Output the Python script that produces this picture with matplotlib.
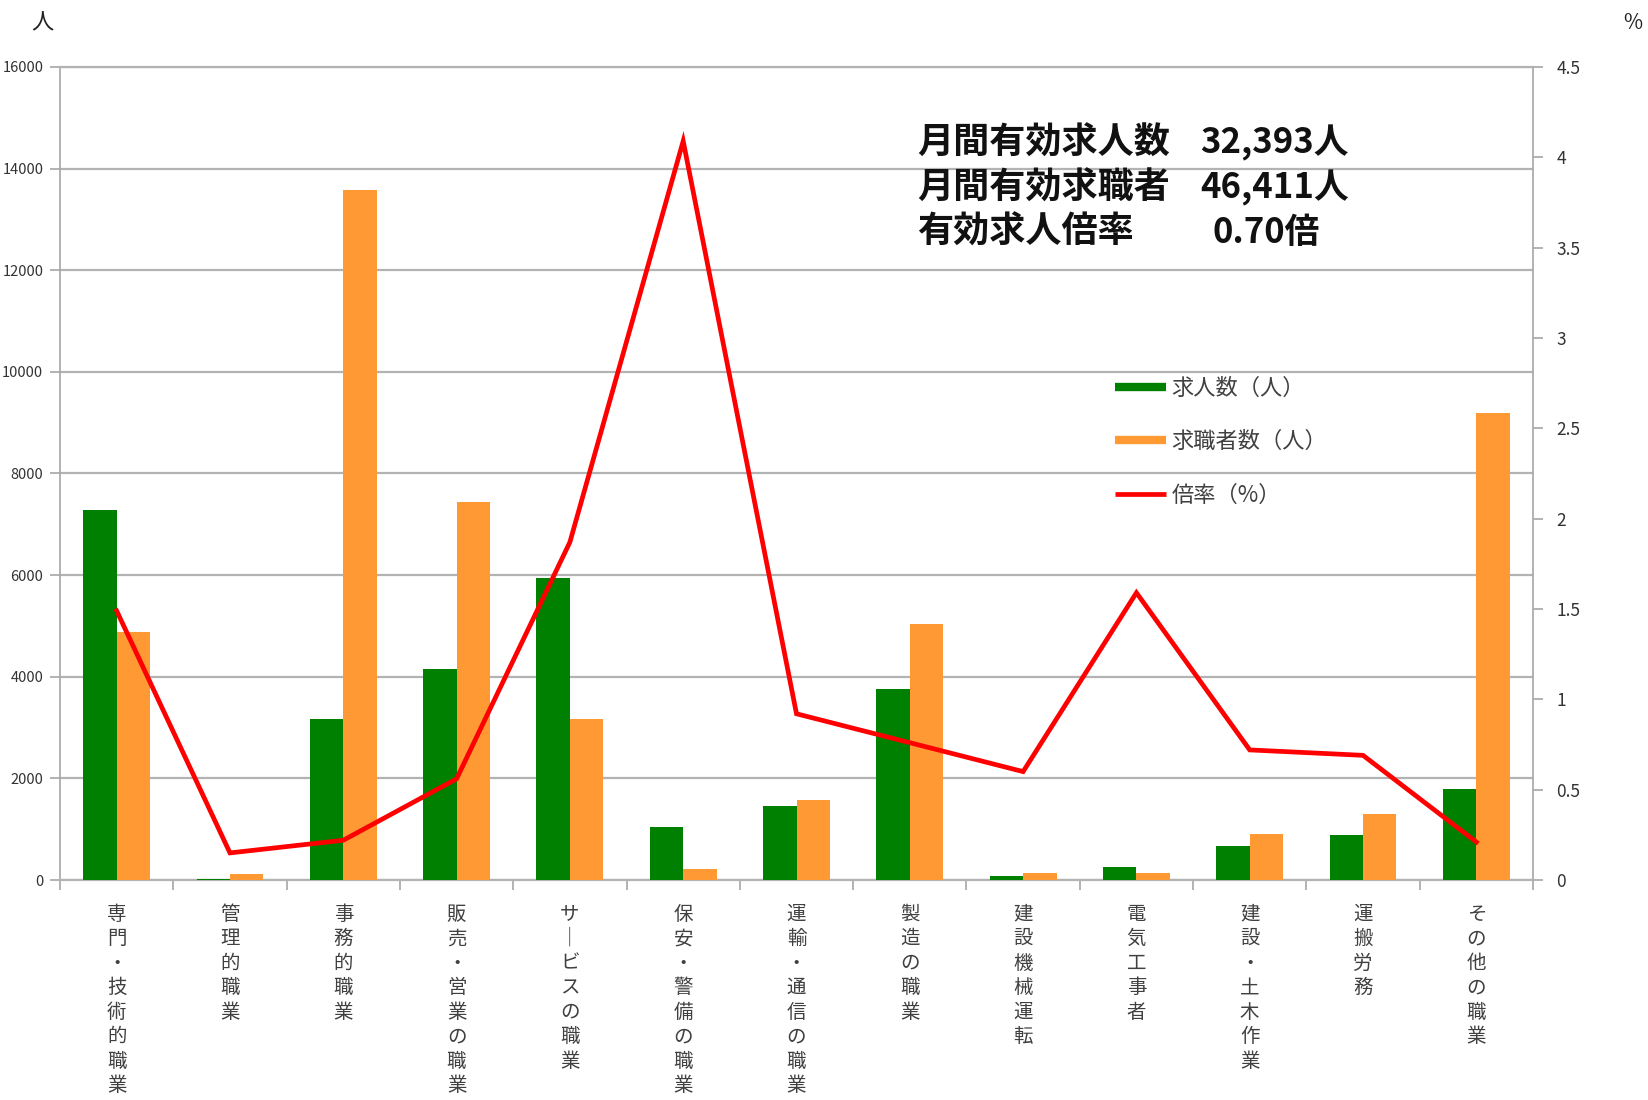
import matplotlib
matplotlib.use("Agg")
import matplotlib.pyplot as plt
from matplotlib.lines import Line2D
import numpy as np

plt.rcParams['font.family'] = ['Noto Sans CJK JP', 'DejaVu Sans']

categories = ["専門・技術的職業", "管理的職業", "事務的職業", "販売・営業の職業",
              "サービスの職業", "保安・警備の職業", "運輸・通信の職業", "製造の職業",
              "建設機械運転", "電気工事者", "建設・土木作業", "運搬労務", "その他の職業"]
job_openings = [7290, 20, 3160, 4150, 5950, 1050, 1460, 3750, 80, 250, 660, 890, 1800]
job_seekers = [4880, 120, 13580, 7430, 3160, 220, 1580, 5030, 140, 140, 910, 1300, 9190]
ratio = [1.49, 0.15, 0.22, 0.56, 1.87, 4.09, 0.92, 0.76, 0.60, 1.59, 0.72, 0.69, 0.21]

left_ticks = [0, 2000, 4000, 6000, 8000, 10000, 12000, 14000, 16000]
right_ticks = [0, 0.5, 1, 1.5, 2, 2.5, 3, 3.5, 4, 4.5]
right_labels = ["0", "0.5", "1", "1.5", "2", "2.5", "3", "3.5", "4", "4.5"]

series_names = ["求人数（人）", "求職者数（人）", "倍率（%）"]
summary = [("月間有効求人数", "32,393人"), ("月間有効求職者", "46,411人"), ("有効求人倍率", "0.70倍")]

GREEN = "#008000"
ORANGE = "#ff9933"
RED = "#ff0000"
GRID = "#b3b3b3"
TXT = "#404040"

W, H = 1649, 1100
fig = plt.figure(figsize=(W / 100, H / 100), dpi=100)
ax = fig.add_axes([60 / W, (H - 880) / H, (1533 - 60) / W, (880 - 67) / H])

n = len(categories)
x = np.arange(n)
bw = 0.295
ax.bar(x - bw / 2, job_openings, width=bw, color=GREEN, zorder=3)
ax.bar(x + bw / 2, job_seekers, width=bw, color=ORANGE, zorder=3)

ax.set_xlim(-0.5, n - 0.5)
ax.set_ylim(0, 16000)
ax.set_yticks(left_ticks)
ax.set_yticklabels([str(v) for v in left_ticks])
ax.yaxis.grid(True, color=GRID, lw=1.6, zorder=0)
ax.set_axisbelow(True)

for s in ["left", "right"]:
    ax.spines[s].set_color("#a6a6a6")
    ax.spines[s].set_linewidth(1.2)
for s in ["top", "bottom"]:
    ax.spines[s].set_color(GRID)
    ax.spines[s].set_linewidth(1.6)

vert = ["\n".join(c.replace("ー", "｜")) for c in categories]
ax.set_xticks(x)
ax.set_xticklabels(vert, fontsize=14, color=TXT, va="top", linespacing=1.22)
ax.tick_params(axis="x", which="major", length=0, pad=17)
ax.set_xticks(np.arange(n + 1) - 0.5, minor=True)
ax.tick_params(axis="x", which="minor", length=7, width=1.2, color="#a6a6a6")
ax.tick_params(axis="y", length=7, width=1.2, color="#a6a6a6", pad=5,
               labelsize=10.5, labelcolor="#333333")

ax2 = ax.twinx()
ax2.plot(x, ratio, color=RED, lw=3.4, zorder=5, solid_joinstyle="miter")
ax2.set_ylim(0, 4.5)
ax2.set_yticks(right_ticks)
ax2.set_yticklabels(right_labels)
ax2.tick_params(axis="y", length=7, width=1.2, color="#a6a6a6", pad=10,
                labelsize=12.5, labelcolor="#333333")
for s in ax2.spines.values():
    s.set_visible(False)

fig.text(42 / W, 1 - 23 / H, "人", fontsize=16, ha="center", va="center", color="#222222")
fig.text(1633 / W, 1 - 23 / H, "%", fontsize=15, ha="center", va="center", color="#222222")

ys = [143, 188, 232]
vx = [1200, 1200, 1212]
for (lab, val), yy, xv in zip(summary, ys, vx):
    fig.text(917 / W, 1 - yy / H, lab, fontsize=26, fontweight="bold", ha="left",
             va="center", color="#111111")
    fig.text(xv / W, 1 - yy / H, val, fontsize=25, fontweight="bold", ha="left",
             va="center", color="#111111")

handles = [Line2D([], [], color=GREEN, lw=6, solid_capstyle="butt"),
           Line2D([], [], color=ORANGE, lw=6, solid_capstyle="butt"),
           Line2D([], [], color=RED, lw=3.4, solid_capstyle="butt")]
leg = fig.legend(handles, series_names, loc="upper left",
                 bbox_to_anchor=(1115 / W, 1 - 377 / H), frameon=False,
                 fontsize=16, handlelength=2.3, handletextpad=0.25,
                 labelspacing=1.36, borderpad=0, borderaxespad=0)
for t in leg.get_texts():
    t.set_color(TXT)

fig.savefig("out.png", dpi=100)
